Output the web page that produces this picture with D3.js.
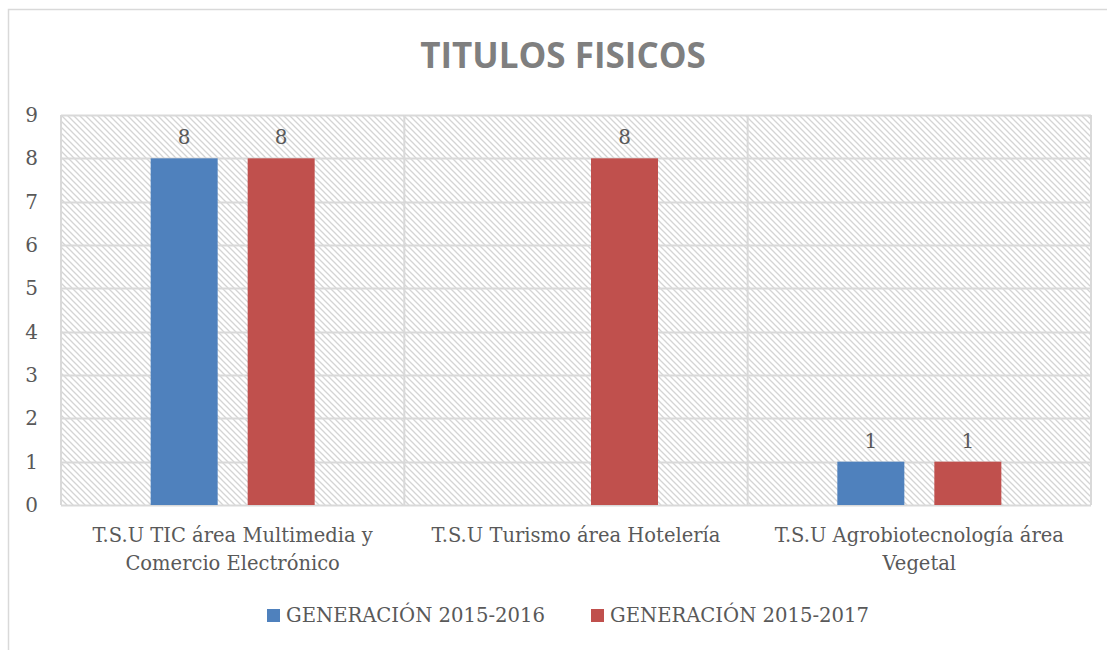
<!DOCTYPE html>
<html>
<head>
<meta charset="utf-8">
<script src="https://cdn.jsdelivr.net/npm/d3@7"></script>
<style>
  body { margin: 0; background: #fff; }
  svg { display: block; }
</style>
</head>
<body>
<svg id="chart" width="1107" height="650"></svg>
<script>
// Data
const categories = [
  ["T.S.U TIC área Multimedia y", "Comercio Electrónico"],
  ["T.S.U Turismo área Hotelería"],
  ["T.S.U Agrobiotecnología área", "Vegetal"]
];
const seriesNames = ["GENERACIÓN 2015-2016", "GENERACIÓN 2015-2017"];
const gen2016 = [8, null, 1];
const gen2017 = [8, 8, 1];
const yTicks = [0, 1, 2, 3, 4, 5, 6, 7, 8, 9];
const seriesColors = ["#4f81bd", "#c0504d"];

const svg = d3.select("#chart");
const textColor = "#595959";
const gridColor = "#d9d9d9";
const serif = "'DejaVu Serif', 'Liberation Serif', serif";

// Outer chart frame
svg.append("rect")
  .attr("x", 8.5).attr("y", 9.5)
  .attr("width", 1130).attr("height", 660)
  .attr("fill", "#fff").attr("stroke", gridColor).attr("stroke-width", 1.5);

// Diagonal hatch for the plot area
const defs = svg.append("defs");
const pat = defs.append("pattern")
  .attr("id", "hatch").attr("patternUnits", "userSpaceOnUse")
  .attr("width", 6).attr("height", 6);
pat.append("rect").attr("width", 6).attr("height", 6).attr("fill", "#fff");
pat.append("path")
  .attr("d", "M-1,-1 L7,7 M-1,5 L1,7 M5,-1 L7,1")
  .attr("stroke", "#d4d4d4").attr("stroke-width", 1.3);

const plot = { left: 61, right: 1091, top: 115, bottom: 505 };

const x0 = d3.scaleBand()
  .domain(d3.range(categories.length))
  .range([plot.left, plot.right])
  .padding(0);

const barW = 67, barGap = 30;
const groupW = barW * 2 + barGap;
const x1 = d3.scaleBand()
  .domain(d3.range(seriesNames.length))
  .range([(x0.bandwidth() - groupW) / 2, (x0.bandwidth() + groupW) / 2])
  .paddingInner(barGap / (barW + barGap))
  .paddingOuter(0);

const y = d3.scaleLinear().domain([0, 9]).range([plot.bottom, plot.top]);

// Plot background
svg.append("rect")
  .attr("x", plot.left).attr("y", plot.top)
  .attr("width", plot.right - plot.left).attr("height", plot.bottom - plot.top)
  .attr("fill", "url(#hatch)");

// Horizontal gridlines
svg.append("g")
  .selectAll("line").data(yTicks).join("line")
  .attr("x1", plot.left).attr("x2", plot.right)
  .attr("y1", d => Math.round(y(d)) + 0.5).attr("y2", d => Math.round(y(d)) + 0.5)
  .attr("stroke", gridColor).attr("stroke-width", 2);

// Vertical category separators
const seps = d3.range(categories.length + 1).map(i =>
  i < categories.length ? x0(i) : x0(categories.length - 1) + x0.bandwidth());
svg.append("g")
  .selectAll("line").data(seps).join("line")
  .attr("x1", d => d).attr("x2", d => d)
  .attr("y1", plot.top).attr("y2", plot.bottom)
  .attr("stroke", gridColor).attr("stroke-width", 2);

// Y axis labels
const yAxis = d3.axisLeft(y).tickValues(yTicks).tickSize(0).tickPadding(0).tickFormat(d3.format("d"));
const yg = svg.append("g").attr("transform", `translate(${38},0)`).call(yAxis);
yg.select(".domain").remove();
yg.selectAll("text")
  .attr("font-family", serif).attr("font-size", 20).attr("fill", textColor);

// Bars and value labels
const series = [gen2016, gen2017];
series.forEach((vals, s) => {
  const g = svg.append("g");
  const data = vals.map((v, i) => ({ i, v })).filter(d => d.v != null);
  g.selectAll("rect").data(data).join("rect")
    .attr("x", d => x0(d.i) + x1(s))
    .attr("width", x1.bandwidth())
    .attr("y", d => y(d.v))
    .attr("height", d => y(0) - y(d.v))
    .attr("fill", seriesColors[s]);
  g.selectAll("text").data(data).join("text")
    .attr("x", d => x0(d.i) + x1(s) + x1.bandwidth() / 2)
    .attr("y", d => y(d.v) - 14)
    .attr("text-anchor", "middle")
    .attr("font-family", serif).attr("font-size", 20).attr("fill", textColor)
    .text(d => d.v);
});

// Category labels
const xl = svg.append("g");
categories.forEach((lines, i) => {
  const t = xl.append("text")
    .attr("text-anchor", "middle")
    .attr("font-family", serif).attr("font-size", 19.5).attr("fill", textColor);
  lines.forEach((ln, k) => {
    t.append("tspan")
      .attr("x", x0(i) + x0.bandwidth() / 2)
      .attr("y", 542 + k * 28)
      .text(ln);
  });
});

// Title
svg.append("text")
  .attr("x", 563).attr("y", 68)
  .attr("text-anchor", "middle")
  .attr("font-family", "'Open Sans', 'Liberation Sans', sans-serif")
  .attr("font-weight", "bold").attr("font-size", 35)
  .attr("fill", "#7f7f7f")
  .text("TITULOS FISICOS");

// Legend
const legendX = [267, 591];
const lg = svg.append("g");
seriesNames.forEach((name, s) => {
  lg.append("rect")
    .attr("x", legendX[s]).attr("y", 609)
    .attr("width", 13).attr("height", 13)
    .attr("fill", seriesColors[s]);
  lg.append("text")
    .attr("x", legendX[s] + 19).attr("y", 622)
    .attr("font-family", serif).attr("font-size", 20).attr("fill", textColor)
    .attr("textLength", 259).attr("lengthAdjust", "spacingAndGlyphs")
    .text(name);
});
</script>
</body>
</html>
